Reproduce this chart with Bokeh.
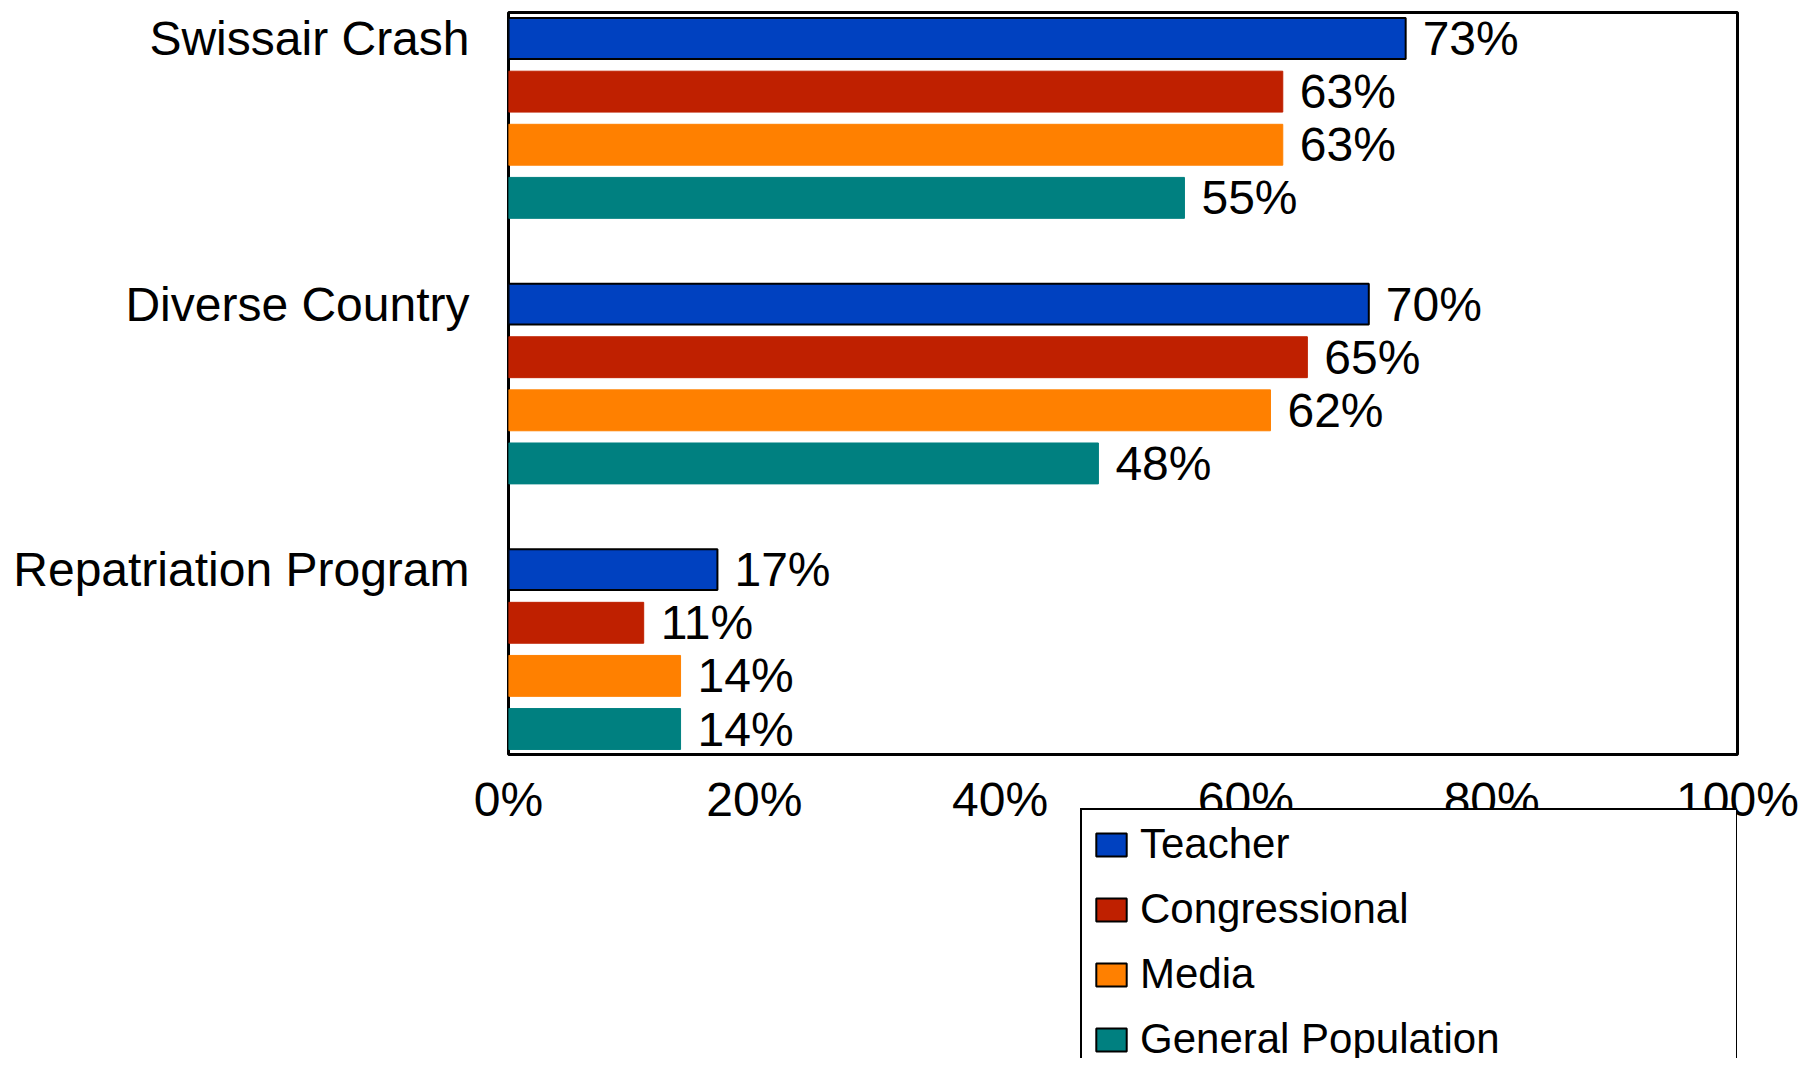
from bokeh.plotting import figure
from bokeh.models import ColumnDataSource, Range1d, FixedTicker, Legend, LegendItem
from bokeh.layouts import column
from bokeh.core.properties import value
from bokeh.embed import file_html
from bokeh.resources import INLINE

categories = ["Swissair Crash", "Diverse Country", "Repatriation Program"]
series = ["Teacher", "Congressional", "Media", "General Population"]
teacher = [73, 70, 17]
congressional = [63, 65, 11]
media = [63, 62, 14]
general = [55, 48, 14]
x_ticks = [0, 20, 40, 60, 80, 100]
x_tick_labels = ["0%", "20%", "40%", "60%", "80%", "100%"]

colors = ["#0041C0", "#BF2000", "#FF8000", "#008080"]
values = [teacher, congressional, media, general]

FONT = "Liberation Sans"

p = figure(width=1800, height=834, output_backend="svg", toolbar_location=None,
           x_range=Range1d(0, 100), y_range=Range1d(13.48, -0.49),
           min_border_left=508, min_border_right=63, min_border_top=12, min_border_bottom=80)
p.background_fill_color = "white"
p.border_fill_color = "white"
p.outline_line_color = "black"
p.outline_line_width = 3
p.xgrid.visible = False
p.ygrid.visible = False

group_step = len(series) + 1
sources = []
for si, (name, vals, col) in enumerate(zip(series, values, colors)):
    ys = [gi * group_step + si for gi in range(len(categories))]
    src = ColumnDataSource(dict(y=ys, right=vals, lab=[f"{v}%" for v in vals]))
    sources.append(src)
    if si == 0:
        p.hbar(y="y", right="right", left=0, height=0.77, source=src,
               fill_color=col, line_color="black", line_width=2)
    else:
        p.hbar(y="y", right="right", left=0, height=0.77, source=src,
               fill_color=col, line_color=col, line_width=1)
    p.text(x="right", y="y", text="lab", source=src, x_offset=17,
           text_font=value(FONT), text_font_size="48px", text_baseline="middle",
           text_align="left", text_color="black")

# y axis
p.yaxis.ticker = FixedTicker(ticks=[gi * group_step for gi in range(len(categories))])
p.yaxis.major_label_overrides = {gi * group_step: c for gi, c in enumerate(categories)}
p.yaxis.major_label_text_font = FONT
p.yaxis.major_label_text_font_size = "48px"
p.yaxis.major_label_text_color = "black"
p.yaxis.major_label_standoff = 39
p.yaxis.axis_line_color = None
p.yaxis.major_tick_line_color = None
p.yaxis.minor_tick_line_color = None
p.yaxis.major_tick_out = 0

# x axis
p.xaxis.ticker = FixedTicker(ticks=x_ticks)
p.xaxis.major_label_overrides = {t: l for t, l in zip(x_ticks, x_tick_labels)}
p.xaxis.major_label_text_font = FONT
p.xaxis.major_label_text_font_size = "48px"
p.xaxis.major_label_text_color = "black"
p.xaxis.major_label_standoff = 18
p.xaxis.axis_line_color = None
p.xaxis.major_tick_line_color = None
p.xaxis.minor_tick_line_color = None
p.xaxis.major_tick_out = 0

# legend panel (overlapping the bottom of the chart, transparent background)
q = figure(width=1800, height=250, output_backend="svg", toolbar_location=None,
           x_range=Range1d(0, 100), y_range=Range1d(13.48, -0.49),
           x_axis_type=None, y_axis_type=None,
           min_border_left=508, min_border_right=63, min_border_top=0, min_border_bottom=0)
q.margin = (-26, 0, 0, 0)
q.background_fill_alpha = 0
q.border_fill_alpha = 0
q.outline_line_color = None
q.xgrid.visible = False
q.ygrid.visible = False

legend_items = []
for name, col, src in zip(series, colors, sources):
    r = q.hbar(y="y", right="right", left=0, height=0.77, source=src,
               fill_color=col, line_color="black", line_width=2, visible=False)
    legend_items.append(LegendItem(label=name, renderers=[r]))

legend = Legend(items=legend_items, location=(572, -17))
legend.click_policy = "none"
legend.inactive_fill_alpha = 0
legend.label_text_font = FONT
legend.label_text_font_size = "42px"
legend.label_text_color = "black"
legend.glyph_width = 38
legend.glyph_height = 29
legend.label_standoff = 10
legend.label_width = 586
legend.spacing = 17
legend.padding = 10
legend.margin = 0
legend.border_line_color = "black"
legend.border_line_alpha = 1.0
legend.border_line_width = 2
legend.background_fill_color = "white"
legend.background_fill_alpha = 1.0
q.add_layout(legend, "center")

layout = column(p, q, spacing=0)
open("out.html", "w").write(file_html(layout, INLINE))
